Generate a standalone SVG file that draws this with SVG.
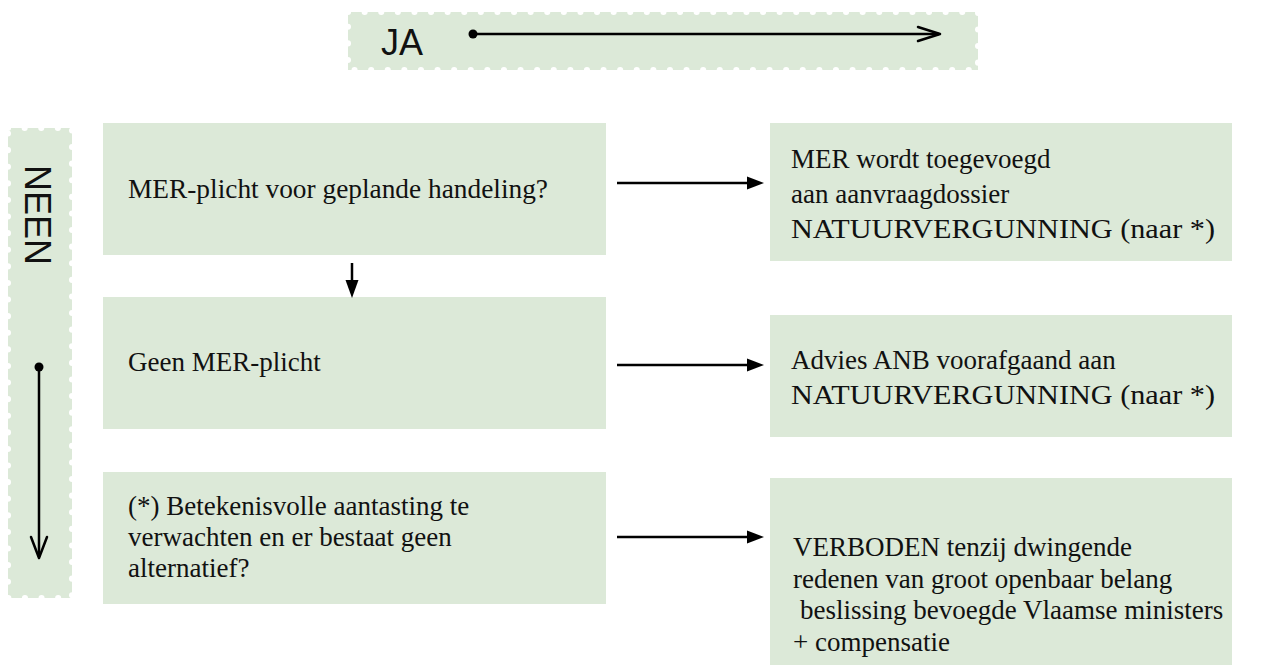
<svg xmlns="http://www.w3.org/2000/svg" width="1270" height="672" viewBox="0 0 1270 672">
  <style>
    .box { fill: #dce9d8; }
    .banner { fill: #dce9d8; }
    .scallop { fill: none; stroke: #ffffff; stroke-width: 6; stroke-linecap: round; stroke-dasharray: 0.1 16.5; }
    .t { font-family: "Liberation Serif", "Times New Roman", serif; font-size: 27px; fill: #111111; }
    .big { font-family: "Liberation Sans", Arial, sans-serif; font-size: 36px; fill: #111111; }
    .ln { stroke: #000000; stroke-width: 2.5; fill: none; }
    .open { stroke: #000000; stroke-width: 2.5; fill: none; stroke-linecap: round; stroke-linejoin: round; }
    .head { fill: #000000; }
  </style>
  <rect width="1270" height="672" fill="#ffffff"/>

  <g id="banner-ja">
    <rect class="banner" x="348" y="12" width="630" height="58"/>
    <rect class="scallop" x="348" y="12" width="630" height="58"/>
    <text class="big" x="381" y="55">JA</text>
    <circle cx="473" cy="34" r="4.5" fill="#000"/>
    <line class="ln" x1="473" y1="34" x2="939" y2="34"/>
    <polyline class="open" points="918,27 940,34 918,41"/>
  </g>

  <g id="banner-neen">
    <rect class="banner" x="8" y="128" width="64" height="470"/>
    <rect class="scallop" x="8" y="128" width="64" height="470"/>
    <text class="big" x="25" y="165" transform="rotate(90 25 165)">NEEN</text>
    <circle cx="39" cy="367" r="4.5" fill="#000"/>
    <line class="ln" x1="39" y1="367" x2="39" y2="557"/>
    <polyline class="open" points="31,537 39,558 47,537"/>
  </g>

  <g id="node-mer-plicht">
    <rect class="box" x="103" y="123" width="503" height="132"/>
    <text class="t" x="128" y="198" textLength="420" lengthAdjust="spacingAndGlyphs">MER-plicht voor geplande handeling?</text>
  </g>

  <g id="node-geen-mer">
    <rect class="box" x="103" y="297" width="503" height="132"/>
    <text class="t" x="128" y="371">Geen MER-plicht</text>
  </g>

  <g id="node-aantasting">
    <rect class="box" x="103" y="472" width="503" height="132"/>
    <text class="t" x="128" y="515">(*) Betekenisvolle aantasting te</text>
    <text class="t" x="128" y="546">verwachten en er bestaat geen</text>
    <text class="t" x="128" y="577">alternatief?</text>
  </g>

  <g id="node-mer-toegevoegd">
    <rect class="box" x="770" y="123" width="462" height="138"/>
    <text class="t" x="791" y="168">MER wordt toegevoegd</text>
    <text class="t" x="791" y="203">aan aanvraagdossier</text>
    <text class="t" x="791" y="238" textLength="424" lengthAdjust="spacingAndGlyphs">NATUURVERGUNNING (naar *)</text>
  </g>

  <g id="node-advies">
    <rect class="box" x="770" y="315" width="462" height="122"/>
    <text class="t" x="791" y="369">Advies ANB voorafgaand aan</text>
    <text class="t" x="791" y="404" textLength="424" lengthAdjust="spacingAndGlyphs">NATUURVERGUNNING (naar *)</text>
  </g>

  <g id="node-verboden">
    <rect class="box" x="770" y="478" width="462" height="187"/>
    <text class="t" x="793" y="556">VERBODEN tenzij dwingende</text>
    <text class="t" x="793" y="588">redenen van groot openbaar belang</text>
    <text class="t" x="800" y="619">beslissing bevoegde Vlaamse ministers</text>
    <text class="t" x="793" y="651">+ compensatie</text>
  </g>

  <g id="connectors">
    <line class="ln" x1="617" y1="183" x2="750" y2="183"/>
    <polygon class="head" points="747,176.5 764,183 747,189.5"/>
    <line class="ln" x1="617" y1="365" x2="750" y2="365"/>
    <polygon class="head" points="747,358.5 764,365 747,371.5"/>
    <line class="ln" x1="617" y1="537" x2="750" y2="537"/>
    <polygon class="head" points="747,530.5 764,537 747,543.5"/>
    <line class="ln" x1="352" y1="263" x2="352" y2="283"/>
    <polygon class="head" points="345.5,280 352,298 358.5,280"/>
  </g>
</svg>
